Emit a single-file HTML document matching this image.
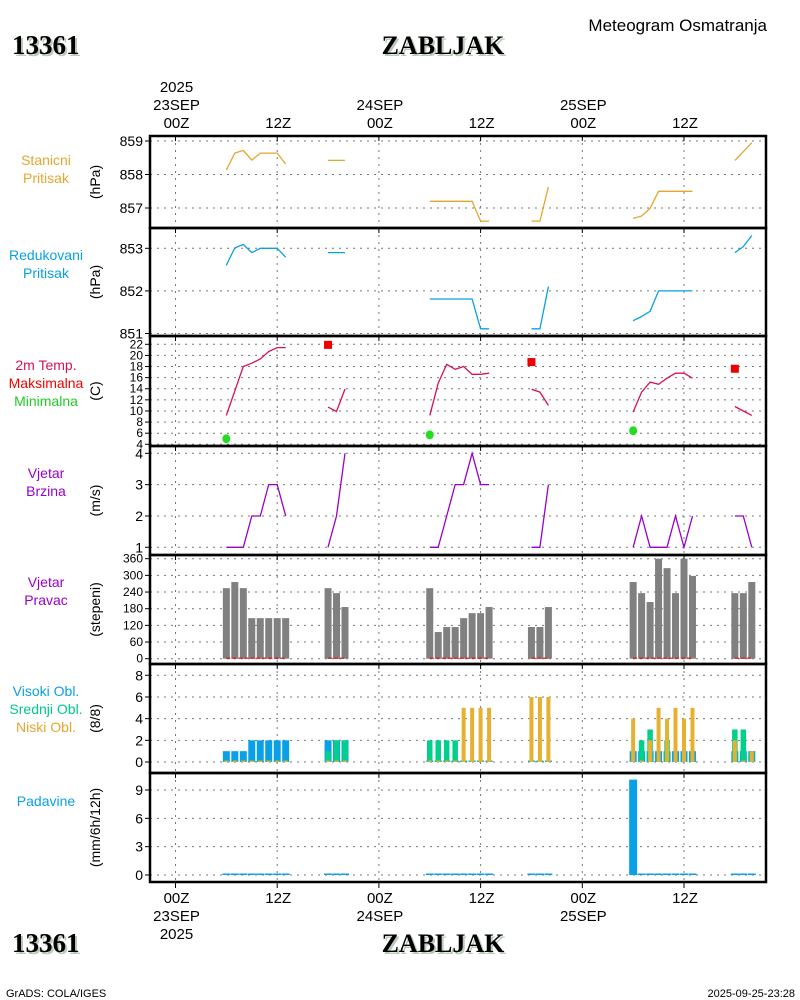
<!DOCTYPE html>
<html><head><meta charset="utf-8"><style>
html,body{margin:0;padding:0;background:#fff;}
svg{display:block;font-family:"Liberation Sans",sans-serif;}
.t{font-size:13px;}
</style></head><body>
<svg id="c" width="800" height="1000" viewBox="0 0 800 1000">
<g>
<text x="14" y="56" font-family="Liberation Serif" font-weight="bold" font-size="27" fill="#b8ccb8">13361</text>
<text x="12" y="54" font-family="Liberation Serif" font-weight="bold" font-size="27" fill="#000">13361</text>
<text x="445" y="56" text-anchor="middle" font-family="Liberation Serif" font-weight="bold" font-size="26" fill="#b8ccb8">ZABLJAK</text>
<text x="443" y="54" text-anchor="middle" font-family="Liberation Serif" font-weight="bold" font-size="26" fill="#000">ZABLJAK</text>
<text x="767" y="31" text-anchor="end" font-size="17" fill="#000">Meteogram Osmatranja</text>
</g>
<g>
<text x="14" y="954" font-family="Liberation Serif" font-weight="bold" font-size="27" fill="#b8ccb8">13361</text>
<text x="12" y="952" font-family="Liberation Serif" font-weight="bold" font-size="27" fill="#000">13361</text>
<text x="445" y="954" text-anchor="middle" font-family="Liberation Serif" font-weight="bold" font-size="26" fill="#b8ccb8">ZABLJAK</text>
<text x="443" y="952" text-anchor="middle" font-family="Liberation Serif" font-weight="bold" font-size="26" fill="#000">ZABLJAK</text>
<text x="6" y="997" font-size="11">GrADS: COLA/IGES</text>
<text x="795" y="997" text-anchor="end" font-size="11">2025-09-25-23:28</text>
</g>
</svg>
<script>
const hours=[6,7,8,9,10,11,12,13,18,19,20,30,31,32,33,34,35,36,37,42,43,44,54,55,56,57,58,59,60,61,66,67,68];
const stnPres=[858.13,858.64,858.72,858.43,858.64,858.64,858.64,858.31,858.42,858.42,858.42,857.2,857.2,857.2,857.2,857.2,857.2,856.61,856.61,856.61,856.61,857.63,856.69,856.76,856.99,857.5,857.5,857.5,857.5,857.5,858.42,858.68,858.95];
const redPres=[852.6,853.01,853.09,852.9,853,853,853,852.79,852.9,852.9,852.9,851.81,851.81,851.81,851.81,851.81,851.81,851.11,851.11,851.11,851.11,852.1,851.3,851.4,851.52,852,852,852,852,852,852.9,853.04,853.3];
const temp=[9.2,13.6,18,18.6,19.35,20.7,21.4,21.4,10.7,9.9,13.95,9.2,15,18.4,17.5,18,16.6,16.6,16.8,13.9,13.4,11,9.8,13.4,15.2,14.8,15.9,16.8,16.8,15.9,10.8,10,9.2];
const tmaxHours=[18,42,66];
const tmaxVals=[21.9,18.8,17.6];
const tminHours=[6,30,54];
const tminVals=[5.0,5.7,6.45];
const wind=[1,1,1,2,2,3,3,2,1,2,4,1,1,2,3,3,4,3,3,1,1,3,1,2,1,1,1,2,1,2,2,2,1];
const windDir=[254,276,254,146,146,146,146,146,254,236,186,254,96,114,114,146,164,164,186,114,114,186,276,236,204,360,326,236,360,298,236,236,276];
const highCl=[1,1,1,2,2,2,2,2,2,2,2,0,0,0,0,0,0,0,0,0,0,0,1,1,1,1,1,1,1,1,1,1,1];
const midCl=[0,0,0,0,0,0,0,0,1,2,2,2,2,2,2,0,0,0,0,0,0,0,0,2,3,0,2,0,0,0,3,3,1];
const lowCl=[0,0,0,0,0,0,0,0,0,0,0,0,0,0,0,5,5,5,5,6,6,6,4,0,2,5,4,5,4,5,2,0,1];
const precip=[0.1,0.1,0.1,0.1,0.1,0.1,0.1,0.1,0.1,0.1,0.1,0.1,0.1,0.1,0.1,0.1,0.1,0.1,0.1,0.1,0.1,0.1,10.1,0.1,0.1,0.1,0.1,0.1,0.1,0.1,0.1,0.1,0.1];
const gridHours=[0,12,24,36,48,60];
const hourLabels=["00Z","12Z","00Z","12Z","00Z","12Z"];
const dayLabels=["23SEP","","24SEP","","25SEP",""];

const svg=document.getElementById('c');
const NS='http://www.w3.org/2000/svg';
const X0=150,X1=766;
function x(h){return 175.5+h*8.475;}
function mk(tag,attrs,parent){const e=document.createElementNS(NS,tag);for(const k in attrs)e.setAttribute(k,attrs[k]);(parent||svg).appendChild(e);return e;}
function txt(s,attrs,parent){const e=mk('text',attrs,parent);e.textContent=s;return e;}
function lin(v0,v1,y0,y1){return v=>y0+(v-v0)*(y1-y0)/(v1-v0);}

const panels=[
 {name:'station-pressure',top:136,bot:228,ticks:[857,858,859],y:lin(859,858,141,174.5),labels:[['Stanicni','#e6a530'],['Pritisak','#e6a530']],unit:'(hPa)',ly:165},
 {name:'reduced-pressure',top:228,bot:336,ticks:[851,852,853],y:lin(853,851,248.3,333.5),labels:[['Redukovani','#0aa0e6'],['Pritisak','#0aa0e6']],unit:'(hPa)',ly:260},
 {name:'temperature',top:336,bot:446,ticks:[4,6,8,10,12,14,16,18,20,22],y:lin(22,4,344.3,444.3),labels:[['2m Temp.','#d8105a'],['Maksimalna','#f00000'],['Minimalna','#22cc22']],unit:'(C)',ly:370,small:true},
 {name:'wind-speed',top:446,bot:555,ticks:[1,2,3,4],y:lin(4,1,453.3,547.3),labels:[['Vjetar','#9900cc'],['Brzina','#9900cc']],unit:'(m/s)',ly:478},
 {name:'wind-direction',top:555,bot:664,ticks:[0,60,120,180,240,300,360],y:lin(360,0,558.7,658.7),labels:[['Vjetar','#9900cc'],['Pravac','#9900cc']],unit:'(stepeni)',ly:587,small:true},
 {name:'cloud-cover',top:664,bot:773,ticks:[0,2,4,6,8],y:lin(8,0,675.3,762),labels:[['Visoki Obl.','#0aa0e6'],['Srednji Obl.','#00c890'],['Niski Obl.','#e6a530']],unit:'(8/8)',ly:696},
 {name:'precipitation',top:773,bot:882,ticks:[0,3,6,9],y:lin(9,0,790,875),labels:[['Padavine','#0aa0e6']],unit:'(mm/6h/12h)',ly:806}
];

panels.forEach(p=>{
 const g=mk('g',{});
 
 
 // grid
 gridHours.forEach(h=>{const l=mk('line',{x1:x(h),x2:x(h),y1:p.top,y2:p.bot,stroke:'#777','stroke-dasharray':'2,5','stroke-width':1},g);
  });
 p.ticks.forEach(t=>{const yy=p.y(t);
  const l=mk('line',{x1:X0,x2:X1,y1:yy,y2:yy,stroke:'#777','stroke-dasharray':'2,5','stroke-width':1},g);
  
  const tk=mk('line',{x1:X0-5,x2:X0,y1:yy,y2:yy,stroke:'#000','stroke-width':1},g);
  
  const tl=txt(String(t),{x:X0-7,y:yy+(p.small?4:5),'text-anchor':'end','font-size':p.small?12:14},g);
  
 });
 gridHours.forEach(h=>{const tk=mk('line',{x1:x(h),x2:x(h),y1:p.top,y2:p.top+5,stroke:'#000'},g);
  });
 const n=p.labels.length;
 p.labels.forEach((lb,i)=>{const t=txt(lb[0],{x:46,y:p.ly+i*18,'text-anchor':'middle','font-size':14,fill:lb[1]},g);
  });
 const cy=(p.top+p.bot)/2;
 const u=txt(p.unit,{x:0,y:0,'text-anchor':'middle','font-size':14,transform:`translate(100,${cy}) rotate(-90)`},g);
 
 p.g=g;
});

function segs(vals){const out=[];let cur=[];hours.forEach((h,i)=>{if(i>0&&h-hours[i-1]>1){out.push(cur);cur=[];}cur.push(i);});out.push(cur);return out;}
function drawLine(p,vals,color,name){
 segs().forEach(s=>{const pts=s.map(i=>x(hours[i]).toFixed(1)+','+p.y(vals[i]).toFixed(1)).join(' ');
  const pl=mk('polyline',{points:pts,fill:'none',stroke:color,'stroke-width':1.3},p.g);
  });
}
drawLine(panels[0],stnPres,'#e6a530','station-pressure-line');
drawLine(panels[1],redPres,'#0aa0e6','reduced-pressure-line');
drawLine(panels[2],temp,'#d8105a','temperature-line');
drawLine(panels[3],wind,'#9900cc','wind-speed-line');
tmaxHours.forEach((h,i)=>{const yy=panels[2].y(tmaxVals[i]);
 const r=mk('rect',{x:x(h)-4,y:yy-4,width:8,height:8,fill:'#ee0000'},panels[2].g);
 });
tminHours.forEach((h,i)=>{const yy=panels[2].y(tminVals[i]);
 const c=mk('ellipse',{cx:x(h),cy:yy,rx:4,ry:4.5,fill:'#22dd22'},panels[2].g);
 });
// wind direction bars
const pd=panels[4];
hours.forEach((h,i)=>{const y0=pd.y(0),y1=pd.y(windDir[i]);
 const r=mk('rect',{x:x(h)-3.5,y:y1,width:7,height:y0-y1,fill:'#808080'},pd.g);
 });
segs().forEach(s=>{const a=x(hours[s[0]]),b=x(hours[s[s.length-1]]);
 const l=mk('line',{x1:a,x2:b,y1:pd.y(0)-0.5,y2:pd.y(0)-0.5,stroke:'#ee0000','stroke-width':1.2,'stroke-dasharray':'4,2'},pd.g);
 });
// clouds
const pc=panels[5];
function cloudBars(vals,w,color,name){hours.forEach((h,i)=>{const y0=pc.y(0),y1=Math.min(pc.y(vals[i]),y0-1.5);
 const r=mk('rect',{x:x(h)-w/2,y:y1,width:w,height:y0-y1,fill:color},pc.g);
 });}
cloudBars(highCl,7,'#0aa0e6','high-cloud-bar');
cloudBars(midCl,5.5,'#00d08a','mid-cloud-bar');
cloudBars(lowCl,4,'#e6b030','low-cloud-bar');
// precip
const pp=panels[6];
hours.forEach((h,i)=>{const y0=pp.y(0),y1=Math.min(pp.y(precip[i]),y0-1.5);
 const r=mk('rect',{x:x(h)-4,y:y1,width:8,height:y0-y1,fill:'#0aa0e6'},pp.g);
 });
// frames
panels.forEach(p=>{const r=mk('rect',{x:X0,y:p.top,width:X1-X0,height:p.bot-p.top,fill:'none',stroke:'#000','stroke-width':2.5});
 });
// bottom ticks
gridHours.forEach(h=>{const tk=mk('line',{x1:x(h),x2:x(h),y1:882,y2:888,stroke:'#000'});
 });
// time labels
const gt=mk('g',{'font-size':15});

gridHours.forEach((h,i)=>{
 const a=txt(hourLabels[i],{x:x(h)+1,y:128,'text-anchor':'middle'},gt);
 const b=txt(hourLabels[i],{x:x(h)+1,y:903,'text-anchor':'middle'},gt);
 if(dayLabels[i]){
  const c=txt(dayLabels[i],{x:x(h)+1,y:110,'text-anchor':'middle'},gt);
  const d=txt(dayLabels[i],{x:x(h)+1,y:921,'text-anchor':'middle'},gt);
 }
});
const y1=txt('2025',{x:x(0)+1,y:92,'text-anchor':'middle'},gt);
const y2=txt('2025',{x:x(0)+1,y:939,'text-anchor':'middle'},gt);
</script>
</body></html>
